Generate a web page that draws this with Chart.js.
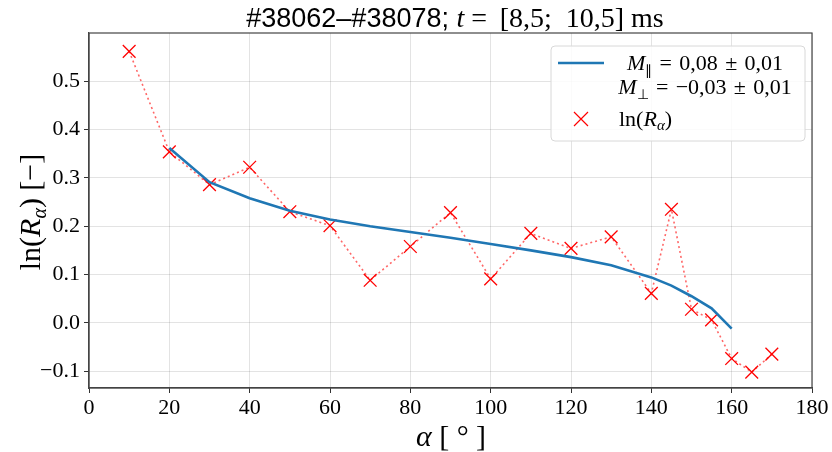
<!DOCTYPE html>
<html>
<head>
<meta charset="utf-8">
<script src="https://cdn.jsdelivr.net/npm/chart.js@4.4.0/dist/chart.umd.min.js"></script>
<style>
html, body { margin: 0; padding: 0; background: #fff; }
</style>
</head>
<body>
<canvas id="graf" width="832" height="452"></canvas>
<script>
// dados medidos: ln(R_alpha) por angulo
const alphaMedido = [10, 20, 30, 40, 50, 60, 70, 80, 90, 100, 110, 120, 130, 140, 145, 150, 155, 160, 165, 170];
const lnR = [0.562, 0.354, 0.286, 0.322, 0.230, 0.201, 0.088, 0.158, 0.228, 0.091, 0.185, 0.154, 0.178, 0.061, 0.235, 0.028, 0.006, -0.074, -0.102, -0.065];

// curva ajustada
const alphaAjuste = [20, 30, 40, 50, 60, 70, 80, 90, 100, 110, 120, 130, 140, 145, 150, 155, 160];
const valoresAjuste = [0.362, 0.291, 0.258, 0.232, 0.214, 0.200, 0.188, 0.176, 0.163, 0.150, 0.136, 0.119, 0.094, 0.077, 0.055, 0.030, -0.012];

const ticksX = [0, 20, 40, 60, 80, 100, 120, 140, 160, 180];
const ticksY = [-0.1, 0.0, 0.1, 0.2, 0.3, 0.4, 0.5];

const serif = "'Liberation Serif'";
const azul = '#1f77b4';
const fino = '\u2009';
const hair = '\u200A';

// desenha texto com pedacos de fontes diferentes
function textoRico(ctx, x, y, pedacos, alinhamento) {
    let largura = 0;
    pedacos.forEach(p => { ctx.font = p.f; largura += ctx.measureText(p.t).width; });
    let cx = alinhamento === 'center' ? x - largura / 2 : x;
    ctx.textAlign = 'left';
    ctx.textBaseline = 'alphabetic';
    pedacos.forEach(p => {
        ctx.font = p.f;
        ctx.fillText(p.t, cx, y + (p.dy || 0));
        cx += ctx.measureText(p.t).width;
    });
}

const extras = {
    id: 'extras',
    afterDraw(chart) {
        const ctx = chart.ctx;
        const area = chart.chartArea;
        ctx.save();
        ctx.fillStyle = '#000';

        // moldura
        ctx.strokeStyle = '#444';
        ctx.lineWidth = 1.2;
        ctx.strokeRect(area.left, area.top, area.right - area.left, area.bottom - area.top);

        // titulo
        textoRico(ctx, 455, 27, [
            { t: '#38062–#38078; ', f: "27px 'Liberation Sans'" },
            { t: 't', f: 'italic 28px ' + serif },
            { t: ' =' + fino + ' [8,5;  10,5] ms', f: '28px ' + serif }
        ], 'center');

        // titulo eixo x
        textoRico(ctx, 451, 446, [
            { t: 'α', f: 'italic 30px ' + serif },
            { t: ' [ ° ]', f: '30px ' + serif }
        ], 'center');

        // titulo eixo y
        ctx.save();
        ctx.translate(40, 212);
        ctx.rotate(-Math.PI / 2);
        textoRico(ctx, 0, 0, [
            { t: 'ln(', f: '30px ' + serif },
            { t: 'R', f: 'italic 30px ' + serif },
            { t: 'α', f: 'italic 20px ' + serif, dy: 6 },
            { t: ') [−]', f: '30px ' + serif }
        ], 'center');
        ctx.restore();

        // legenda
        const lx = 551, ly = 46, lw = 254, lh = 95;
        ctx.fillStyle = 'rgba(255,255,255,0.85)';
        ctx.strokeStyle = '#d8d8d8';
        ctx.lineWidth = 1;
        ctx.beginPath();
        ctx.roundRect(lx, ly, lw, lh, 4);
        ctx.fill();
        ctx.stroke();

        ctx.strokeStyle = azul;
        ctx.lineWidth = 2.5;
        ctx.beginPath();
        ctx.moveTo(558, 63);
        ctx.lineTo(604, 63);
        ctx.stroke();

        ctx.strokeStyle = 'red';
        ctx.lineWidth = 1.2;
        ctx.beginPath();
        ctx.moveTo(574, 112); ctx.lineTo(588, 126);
        ctx.moveTo(588, 112); ctx.lineTo(574, 126);
        ctx.stroke();

        ctx.fillStyle = '#000';
        const esp = ' ' + hair;
        textoRico(ctx, 705, 70, [
            { t: 'M', f: 'italic 22px ' + serif },
            { t: '∥', f: '14px ' + serif, dy: 5 },
            { t: esp + '=' + esp + '0,08' + esp + '±' + esp + '0,01', f: '22px ' + serif }
        ], 'center');
        textoRico(ctx, 705, 94, [
            { t: 'M', f: 'italic 22px ' + serif },
            { t: '⊥', f: '14px ' + serif, dy: 5 },
            { t: esp + '=' + esp + '−0,03' + esp + '±' + esp + '0,01', f: '22px ' + serif }
        ], 'center');
        textoRico(ctx, 619, 126, [
            { t: 'ln(', f: '22px ' + serif },
            { t: 'R', f: 'italic 22px ' + serif },
            { t: 'α', f: 'italic 15px ' + serif, dy: 4 },
            { t: ')', f: '22px ' + serif }
        ], 'left');

        ctx.restore();
    }
};

const ctx = document.getElementById('graf');

new Chart(ctx, {
    type: 'line',
    data: {
        datasets: [
            {
                label: 'ln(R_alpha)',
                data: alphaMedido.map((a, i) => ({ x: a, y: lnR[i] })),
                borderColor: 'rgba(255,0,0,0.6)',
                borderWidth: 1.6,
                borderDash: [2, 3],
                pointStyle: 'crossRot',
                pointRadius: 9,
                pointBorderWidth: 1.3,
                pointBorderColor: 'red',
                pointBackgroundColor: 'red',
                tension: 0,
                order: 2
            },
            {
                label: 'ajuste',
                data: alphaAjuste.map((a, i) => ({ x: a, y: valoresAjuste[i] })),
                borderColor: azul,
                borderWidth: 2.6,
                pointRadius: 0,
                tension: 0,
                order: 1
            }
        ]
    },
    options: {
        responsive: false,
        animation: false,
        layout: { padding: { top: 33, right: 20, left: 0, bottom: 0 } },
        plugins: {
            legend: { display: false },
            title: { display: false },
            tooltip: { enabled: false }
        },
        scales: {
            x: {
                type: 'linear',
                min: 0,
                max: 180,
                afterFit(s) { s.height = 64; },
                afterBuildTicks(s) { s.ticks = ticksX.map(v => ({ value: v })); },
                ticks: {
                    color: '#000',
                    font: { family: 'Liberation Serif', size: 22 },
                    padding: 2,
                    maxRotation: 0,
                    callback: v => String(v)
                },
                grid: { color: 'rgba(0,0,0,0.11)', tickColor: '#333', tickLength: 5 },
                border: { color: '#444', width: 1.2 }
            },
            y: {
                type: 'linear',
                min: -0.135,
                max: 0.6,
                afterFit(s) { s.width = 89; },
                afterBuildTicks(s) { s.ticks = ticksY.map(v => ({ value: v })); },
                ticks: {
                    color: '#000',
                    font: { family: 'Liberation Serif', size: 22 },
                    padding: 4,
                    callback: v => v.toFixed(1).replace('-', '−')
                },
                grid: { color: 'rgba(0,0,0,0.11)', tickColor: '#333', tickLength: 5 },
                border: { color: '#444', width: 1.2 }
            }
        }
    },
    plugins: [extras]
});
</script>
</body>
</html>
